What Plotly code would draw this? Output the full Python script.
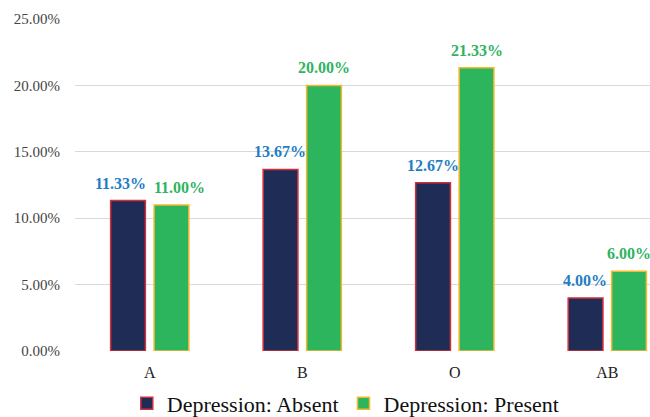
import plotly.graph_objects as go

groups = ["A", "B", "O", "AB"]
absent = [11.33, 13.67, 12.67, 4.00]
present = [11.00, 20.00, 21.33, 6.00]
y_ticks = [0, 5, 10, 15, 20, 25]

serif = "Liberation Serif, Times New Roman, serif"
label_blue = "#1f7dc4"
label_green = "#2fb35f"

fig = go.Figure()
fig.add_trace(go.Bar(
    x=groups, y=absent, name="Depression: Absent",
    marker=dict(color="#1f2d56", line=dict(color="#d0303a", width=1.5)),
    offsetgroup="absent",
))
fig.add_trace(go.Bar(
    x=groups, y=present, name="Depression: Present",
    marker=dict(color="#2db55d", line=dict(color="#f5b82e", width=1.5)),
    offsetgroup="present",
))

# value labels above each bar; the A-group pair is nudged apart so they don't collide
bar_half = 0.143
nudges = {"A": (-7, 8)}
for i, g in enumerate(groups):
    dx_a, dx_p = nudges.get(g, (0, 0))
    fig.add_annotation(
        x=i - bar_half, y=absent[i], xref="x", yref="y",
        text=f"{absent[i]:.2f}%", showarrow=False,
        yanchor="bottom", yshift=7, xshift=dx_a,
        font=dict(family=serif, size=16, color=label_blue, weight="bold"),
    )
    fig.add_annotation(
        x=i + bar_half, y=present[i], xref="x", yref="y",
        text=f"{present[i]:.2f}%", showarrow=False,
        yanchor="bottom", yshift=7, xshift=dx_p,
        font=dict(family=serif, size=16, color=label_green, weight="bold"),
    )

fig.update_layout(
    width=650, height=417,
    margin=dict(l=75, r=0, t=19, b=66, autoexpand=False),
    paper_bgcolor="white", plot_bgcolor="white",
    barmode="group", bargap=0.43, bargroupgap=0.2,
    font=dict(family=serif, size=15, color="#333333"),
    legend=dict(
        orientation="h", xref="container", x=0.532, xanchor="center",
        y=-0.158, yanchor="middle",
        font=dict(family=serif, size=22, color="#111111"),
        itemwidth=30, traceorder="normal",
        tracegroupgap=0,
    ),
    xaxis=dict(
        range=[-0.49, 3.28], showgrid=False, showline=False, zeroline=False,
        ticks="", ticklabelstandoff=10,
        tickfont=dict(family=serif, size=16, color="#222222"),
    ),
    yaxis=dict(
        range=[0, 25], tickvals=y_ticks,
        ticktext=[f"{v:.2f}%" for v in y_ticks],
        showgrid=True, gridcolor="#d9d9d9", gridwidth=1,
        zeroline=False, showline=False, ticks="",
        ticklabelstandoff=14,
        tickfont=dict(family=serif, size=15, color="#444444"),
    ),
)

fig.write_html("out.html")
